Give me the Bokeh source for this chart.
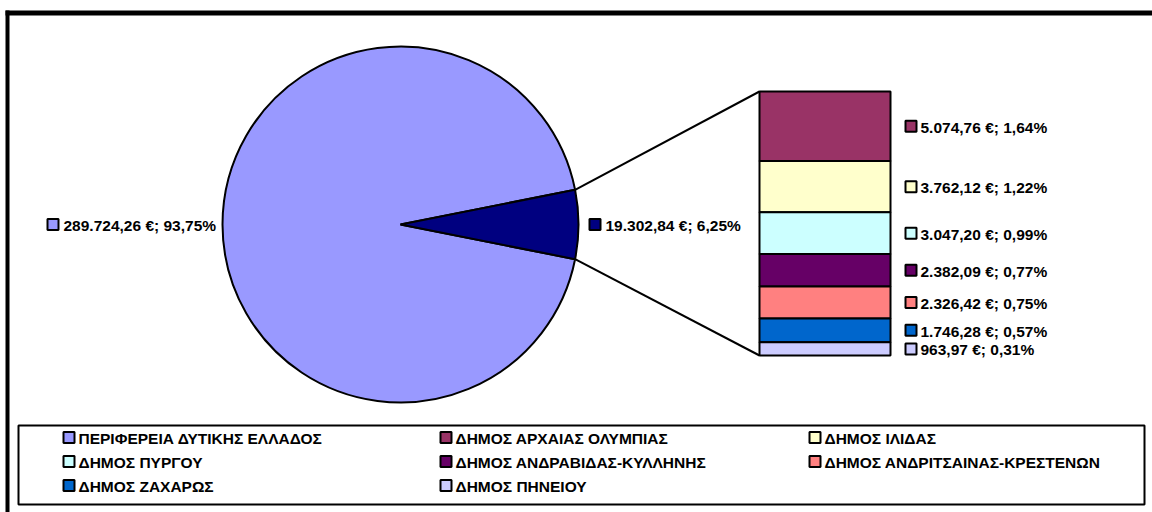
import math
from bokeh.plotting import figure
from bokeh.models import Range1d
from bokeh.core.properties import value
from bokeh.embed import file_html
from bokeh.resources import INLINE

# ---------------- data ----------------
region_name = "ΠΕΡΙΦΕΡΕΙΑ ΔΥΤΙΚΗΣ ΕΛΛΑΔΟΣ"
region_value = 289724.26
region_color = "#9999FF"
other_color = "#000080"

municipality_names = [
    "ΔΗΜΟΣ ΑΡΧΑΙΑΣ ΟΛΥΜΠΙΑΣ",
    "ΔΗΜΟΣ ΙΛΙΔΑΣ",
    "ΔΗΜΟΣ ΠΥΡΓΟΥ",
    "ΔΗΜΟΣ ΑΝΔΡΑΒΙΔΑΣ-ΚΥΛΛΗΝΗΣ",
    "ΔΗΜΟΣ ΑΝΔΡΙΤΣΑΙΝΑΣ-ΚΡΕΣΤΕΝΩΝ",
    "ΔΗΜΟΣ ΖΑΧΑΡΩΣ",
    "ΔΗΜΟΣ ΠΗΝΕΙΟΥ",
]
municipality_values = [5074.76, 3762.12, 3047.20, 2382.09, 2326.42, 1746.28, 963.97]
municipality_colors = ["#993366", "#FFFFCC", "#CCFFFF", "#660066", "#FF8080", "#0066CC", "#CCCCFF"]

# ---------------- helpers ----------------
FONT = value("Liberation Sans")
LABEL_SIZE = "15.5px"
LEGEND_SIZE = "15.5px"


def greek_money(v):
    s = f"{v:,.2f}"
    return s.replace(",", "#").replace(".", ",").replace("#", ".")


def greek_pct(p):
    return f"{p:.2f}".replace(".", ",") + "%"


other_value = sum(municipality_values)
total = region_value + other_value

# ---------------- figure (data coords = image pixel coords) ----------------
p = figure(width=1152, height=512, x_range=Range1d(0, 1152), y_range=Range1d(512, 0),
           output_backend="svg", toolbar_location=None, min_border=0,
           x_axis_location=None, y_axis_location=None)
p.grid.visible = False
p.outline_line_color = None
p.background_fill_color = "white"
p.border_fill_color = "white"

# outer frame
p.quad(left=[5, 5], right=[1152, 9], top=[10, 10], bottom=[15, 512],
       fill_color="black", line_color=None)

# ---------------- pie ----------------
cx, cy, R = 400, 224, 178
share = other_value / total
half = share * math.pi
p.wedge(x=[cx], y=[cy], radius=R, start_angle=half, end_angle=2 * math.pi - half,
        fill_color=region_color, line_color="black", line_width=2)
p.wedge(x=[cx], y=[cy], radius=R, start_angle=-half, end_angle=half,
        fill_color=other_color, line_color="black", line_width=2)

# ---------------- bar of pie ----------------
bx0, bx1, by0, by1 = 759, 890, 91, 355
scale = (by1 - by0) / other_value
tops, bottoms, mids = [], [], []
acc = 0.0
for v in municipality_values:
    t = by0 + acc * scale
    acc += v
    b = by0 + acc * scale
    tops.append(t)
    bottoms.append(b)
    mids.append((t + b) / 2)

p.quad(left=[bx0] * len(tops), right=[bx1] * len(tops), top=tops, bottom=bottoms,
       fill_color=municipality_colors, line_color="black", line_width=2)

# connector lines
ex = cx + R * math.cos(half)
ey_up = cy - R * math.sin(half)
ey_dn = cy + R * math.sin(half)
p.segment(x0=[ex, ex], y0=[ey_up, ey_dn], x1=[bx0, bx0], y1=[by0, by1],
          line_color="black", line_width=2)


# ---------------- data labels ----------------
def label(x_sq, y, color, txt, text_x, size):
    p.quad(left=[x_sq], right=[x_sq + 11], top=[y - 5.5], bottom=[y + 5.5],
           fill_color=color, line_color="black", line_width=2)
    p.text(x=[text_x], y=[y + 1], text=[txt], text_font=FONT, text_font_style="bold",
           text_font_size=size, text_baseline="middle", text_align="left",
           text_color="black")


label(47, cy, region_color,
      f"{greek_money(region_value)} €; {greek_pct(region_value / total * 100)}", 63, LABEL_SIZE)
label(589, cy, other_color,
      f"{greek_money(other_value)} €; {greek_pct(other_value / total * 100)}", 605, LABEL_SIZE)
for v, c, m in zip(municipality_values, municipality_colors, mids):
    label(905, m, c, f"{greek_money(v)} €; {greek_pct(v / total * 100)}", 920, LABEL_SIZE)

# ---------------- legend ----------------
p.quad(left=[18], right=[1144], top=[425], bottom=[504],
       fill_color=None, line_color="black", line_width=2)
legend_names = [region_name] + municipality_names
legend_colors = [region_color] + municipality_colors
col_x = [63, 440, 809]
row_y = [437, 461, 485]
for i, (nm, c) in enumerate(zip(legend_names, legend_colors)):
    label(col_x[i % 3], row_y[i // 3], c, nm, col_x[i % 3] + 15, LEGEND_SIZE)

open("out.html", "w").write(file_html(p, INLINE))
